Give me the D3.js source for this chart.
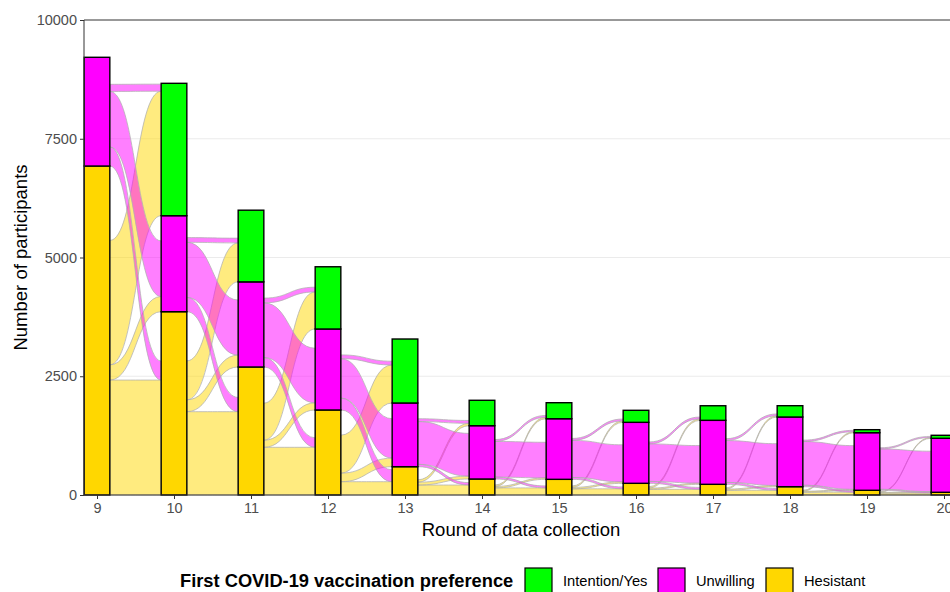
<!DOCTYPE html>
<html>
<head>
<meta charset="utf-8">
<script src="https://cdn.jsdelivr.net/npm/d3@7"></script>
<style>
  body { margin: 0; background: white; }
  text { font-family: "Liberation Sans", Arial, sans-serif; }
</style>
</head>
<body>
<div id="chart"></div>
<script>
// rounds of data collection and the counts in each stratum
const rounds = [9, 10, 11, 12, 13, 14, 15, 16, 17, 18, 19, 20];
const hesitant = [6926, 3859, 2695, 1790, 596, 337, 330, 246, 225, 175, 99, 57];
const unwilling = [2289, 2021, 1792, 1705, 1341, 1122, 1276, 1284, 1347, 1467, 1213, 1137];
const intention = [0, 2787, 1509, 1310, 1347, 535, 337, 253, 307, 238, 63, 63];

const strata = ['H', 'U', 'Y'];
const stratumLabels = { Y: 'Intention/Yes', U: 'Unwilling', H: 'Hesistant' };
const stratumColors = { Y: '#00ff00', U: '#ff00ff', H: '#ffd700' };
const legendOrder = ['Y', 'U', 'H'];
const yTicks = [0, 2500, 5000, 7500, 10000];

// flows between adjacent rounds: [from round, from stratum, to stratum, count]
const flowTable = [
	[9, 'H', 'H', 2420], [9, 'H', 'U', 320], [9, 'H', 'Y', 2620],
	[9, 'U', 'H', 400], [9, 'U', 'U', 1170], [9, 'U', 'Y', 150],
	[10, 'H', 'H', 1754], [10, 'H', 'U', 250], [10, 'H', 'Y', 820],
	[10, 'U', 'H', 300], [10, 'U', 'U', 1160], [10, 'U', 'Y', 100],
	[11, 'H', 'H', 1004], [11, 'H', 'U', 150], [11, 'H', 'Y', 780],
	[11, 'U', 'H', 200], [11, 'U', 'U', 1150], [11, 'U', 'Y', 100],
	[12, 'H', 'H', 280], [12, 'H', 'U', 180], [12, 'H', 'Y', 800],
	[12, 'U', 'H', 250], [12, 'U', 'U', 830], [12, 'U', 'Y', 80],
	[13, 'H', 'H', 210], [13, 'H', 'U', 60], [13, 'H', 'Y', 50],
	[13, 'U', 'H', 50], [13, 'U', 'U', 900], [13, 'U', 'Y', 60],
	[14, 'H', 'H', 150], [14, 'H', 'U', 30], [14, 'H', 'Y', 30],
	[14, 'U', 'H', 40], [14, 'U', 'U', 750], [14, 'U', 'Y', 40],
	[15, 'H', 'H', 130], [15, 'H', 'U', 30], [15, 'H', 'Y', 30],
	[15, 'U', 'H', 40], [15, 'U', 'U', 780], [15, 'U', 'Y', 40],
	[16, 'H', 'H', 120], [16, 'H', 'U', 25], [16, 'H', 'Y', 30],
	[16, 'U', 'H', 40], [16, 'U', 'U', 790], [16, 'U', 'Y', 40],
	[17, 'H', 'H', 100], [17, 'H', 'U', 25], [17, 'H', 'Y', 25],
	[17, 'U', 'H', 40], [17, 'U', 'U', 880], [17, 'U', 'Y', 40],
	[18, 'H', 'H', 60], [18, 'H', 'U', 20], [18, 'H', 'Y', 20],
	[18, 'U', 'H', 30], [18, 'U', 'U', 920], [18, 'U', 'Y', 30],
	[19, 'H', 'H', 40], [19, 'H', 'U', 15], [19, 'H', 'Y', 15],
	[19, 'U', 'H', 20], [19, 'U', 'U', 850], [19, 'U', 'Y', 25]
];

let width = 950,
	height = 592,
	margin = { top: 20, bottom: 97, left: 84 };

let svg = d3.select('#chart')
	.append('svg')
	.attr('width', width)
	.attr('height', height)
	.style('background', 'white');

let x = d3.scalePoint().domain(rounds).range([97, 944]);
let bw = x.step() / 3;
let y = d3.scaleLinear().domain([0, 10000]).range([height - margin.bottom, margin.top]);

// stacked bar segments
let bars = [];
rounds.forEach((r, i) => {
	let vals = { H: hesitant[i], U: unwilling[i], Y: intention[i] };
	let base = 0;
	strata.forEach(s => {
		bars.push({ round: r, stratum: s, y0: base, y1: base + vals[s] });
		base += vals[s];
	});
});
let barBottom = (r, s) => bars.find(b => b.round == r && b.stratum == s).y0;

// stack flows at both ends, starting at the bottom of each stratum
let flows = flowTable.map(d => ({ round: d[0], from: d[1], to: d[2], n: d[3] }));
let order = s => strata.indexOf(s);
d3.groups(flows, d => d.round).forEach(([r, fl]) => {
	strata.forEach(s => {
		let off = barBottom(r, s);
		fl.filter(f => f.from == s).sort((a, b) => order(a.to) - order(b.to)).forEach(f => {
			f.l0 = off; f.l1 = off + f.n; off += f.n;
		});
		let off2 = barBottom(r + 1, s);
		fl.filter(f => f.to == s).sort((a, b) => order(a.from) - order(b.from)).forEach(f => {
			f.r0 = off2; f.r1 = off2 + f.n; off2 += f.n;
		});
	});
});

function flowPath(f) {
	let x0 = x(f.round) + bw / 2,
		x1 = x(f.round + 1) - bw / 2,
		xm = (x0 + x1) / 2;
	return `M${x0},${y(f.l1)} C${xm},${y(f.l1)} ${xm},${y(f.r1)} ${x1},${y(f.r1)}` +
		` L${x1},${y(f.r0)} C${xm},${y(f.r0)} ${xm},${y(f.l0)} ${x0},${y(f.l0)} Z`;
}

// grid
svg.append('g')
	.selectAll('line')
	.data([2500, 5000, 7500])
	.join('line')
	.attr('x1', margin.left)
	.attr('x2', width)
	.attr('y1', d => y(d))
	.attr('y2', d => y(d))
	.style('stroke', '#ebebeb')
	.style('stroke-width', 1);

// flows
svg.append('g')
	.selectAll('path')
	.data(flows)
	.join('path')
	.attr('d', flowPath)
	.style('fill', d => stratumColors[d.from])
	.style('fill-opacity', 0.5)
	.style('stroke', '#b0b0b0')
	.style('stroke-opacity', 0.85)
	.style('stroke-width', 0.9);

// bars
svg.append('g')
	.selectAll('rect')
	.data(bars.filter(b => b.y1 > b.y0))
	.join('rect')
	.attr('x', d => x(d.round) - bw / 2)
	.attr('y', d => y(d.y1))
	.attr('width', bw)
	.attr('height', d => y(d.y0) - y(d.y1))
	.style('fill', d => stratumColors[d.stratum])
	.style('stroke', 'black')
	.style('stroke-width', 1.4);

// axes
let yAxis = svg.append('g')
	.attr('transform', `translate(${margin.left},0)`)
	.call(d3.axisLeft(y).tickValues(yTicks).tickSize(4).tickPadding(3).tickFormat(d3.format('d')));
let xAxis = svg.append('g')
	.attr('transform', `translate(0,${y(0)})`)
	.call(d3.axisBottom(x).tickSize(4).tickPadding(4));
[yAxis, xAxis].forEach(a => {
	a.select('.domain').remove();
	a.selectAll('.tick line').style('stroke', '#333');
	a.selectAll('.tick text')
		.style('font-size', '14.5px')
		.style('fill', '#4d4d4d')
		.style('font-family', '"Liberation Sans", Arial, sans-serif');
});

svg.append('line')
	.attr('x1', margin.left).attr('x2', margin.left)
	.attr('y1', y(10000)).attr('y2', y(0))
	.style('stroke', '#333');
svg.append('line')
	.attr('x1', margin.left).attr('x2', width)
	.attr('y1', y(0)).attr('y2', y(0))
	.style('stroke', '#333');
svg.append('line')
	.attr('x1', margin.left).attr('x2', width)
	.attr('y1', y(10000)).attr('y2', y(10000))
	.style('stroke', '#333');

// axis titles
svg.append('text')
	.attr('x', 521)
	.attr('y', 536)
	.attr('text-anchor', 'middle')
	.style('font-size', '18.5px')
	.text('Round of data collection');

svg.append('text')
	.attr('transform', `translate(27,${(y(0) + y(10000)) / 2}) rotate(-90)`)
	.attr('text-anchor', 'middle')
	.style('font-size', '18.5px')
	.text('Number of participants');

// legend
svg.append('text')
	.attr('x', 180)
	.attr('y', 587)
	.style('font-size', '18.3px')
	.style('font-weight', 'bold')
	.text('First COVID-19 vaccination preference');

let keyX = [525, 658, 766];
let legend = svg.append('g')
	.selectAll('g')
	.data(legendOrder)
	.join('g')
	.attr('transform', (d, i) => `translate(${keyX[i]},568)`);
legend.append('rect')
	.attr('width', 27)
	.attr('height', 27)
	.style('fill', d => stratumColors[d])
	.style('stroke', 'black')
	.style('stroke-width', 1.2);
legend.append('text')
	.attr('x', 38)
	.attr('y', 18)
	.style('font-size', '14.7px')
	.text(d => stratumLabels[d]);
</script>
</body>
</html>
